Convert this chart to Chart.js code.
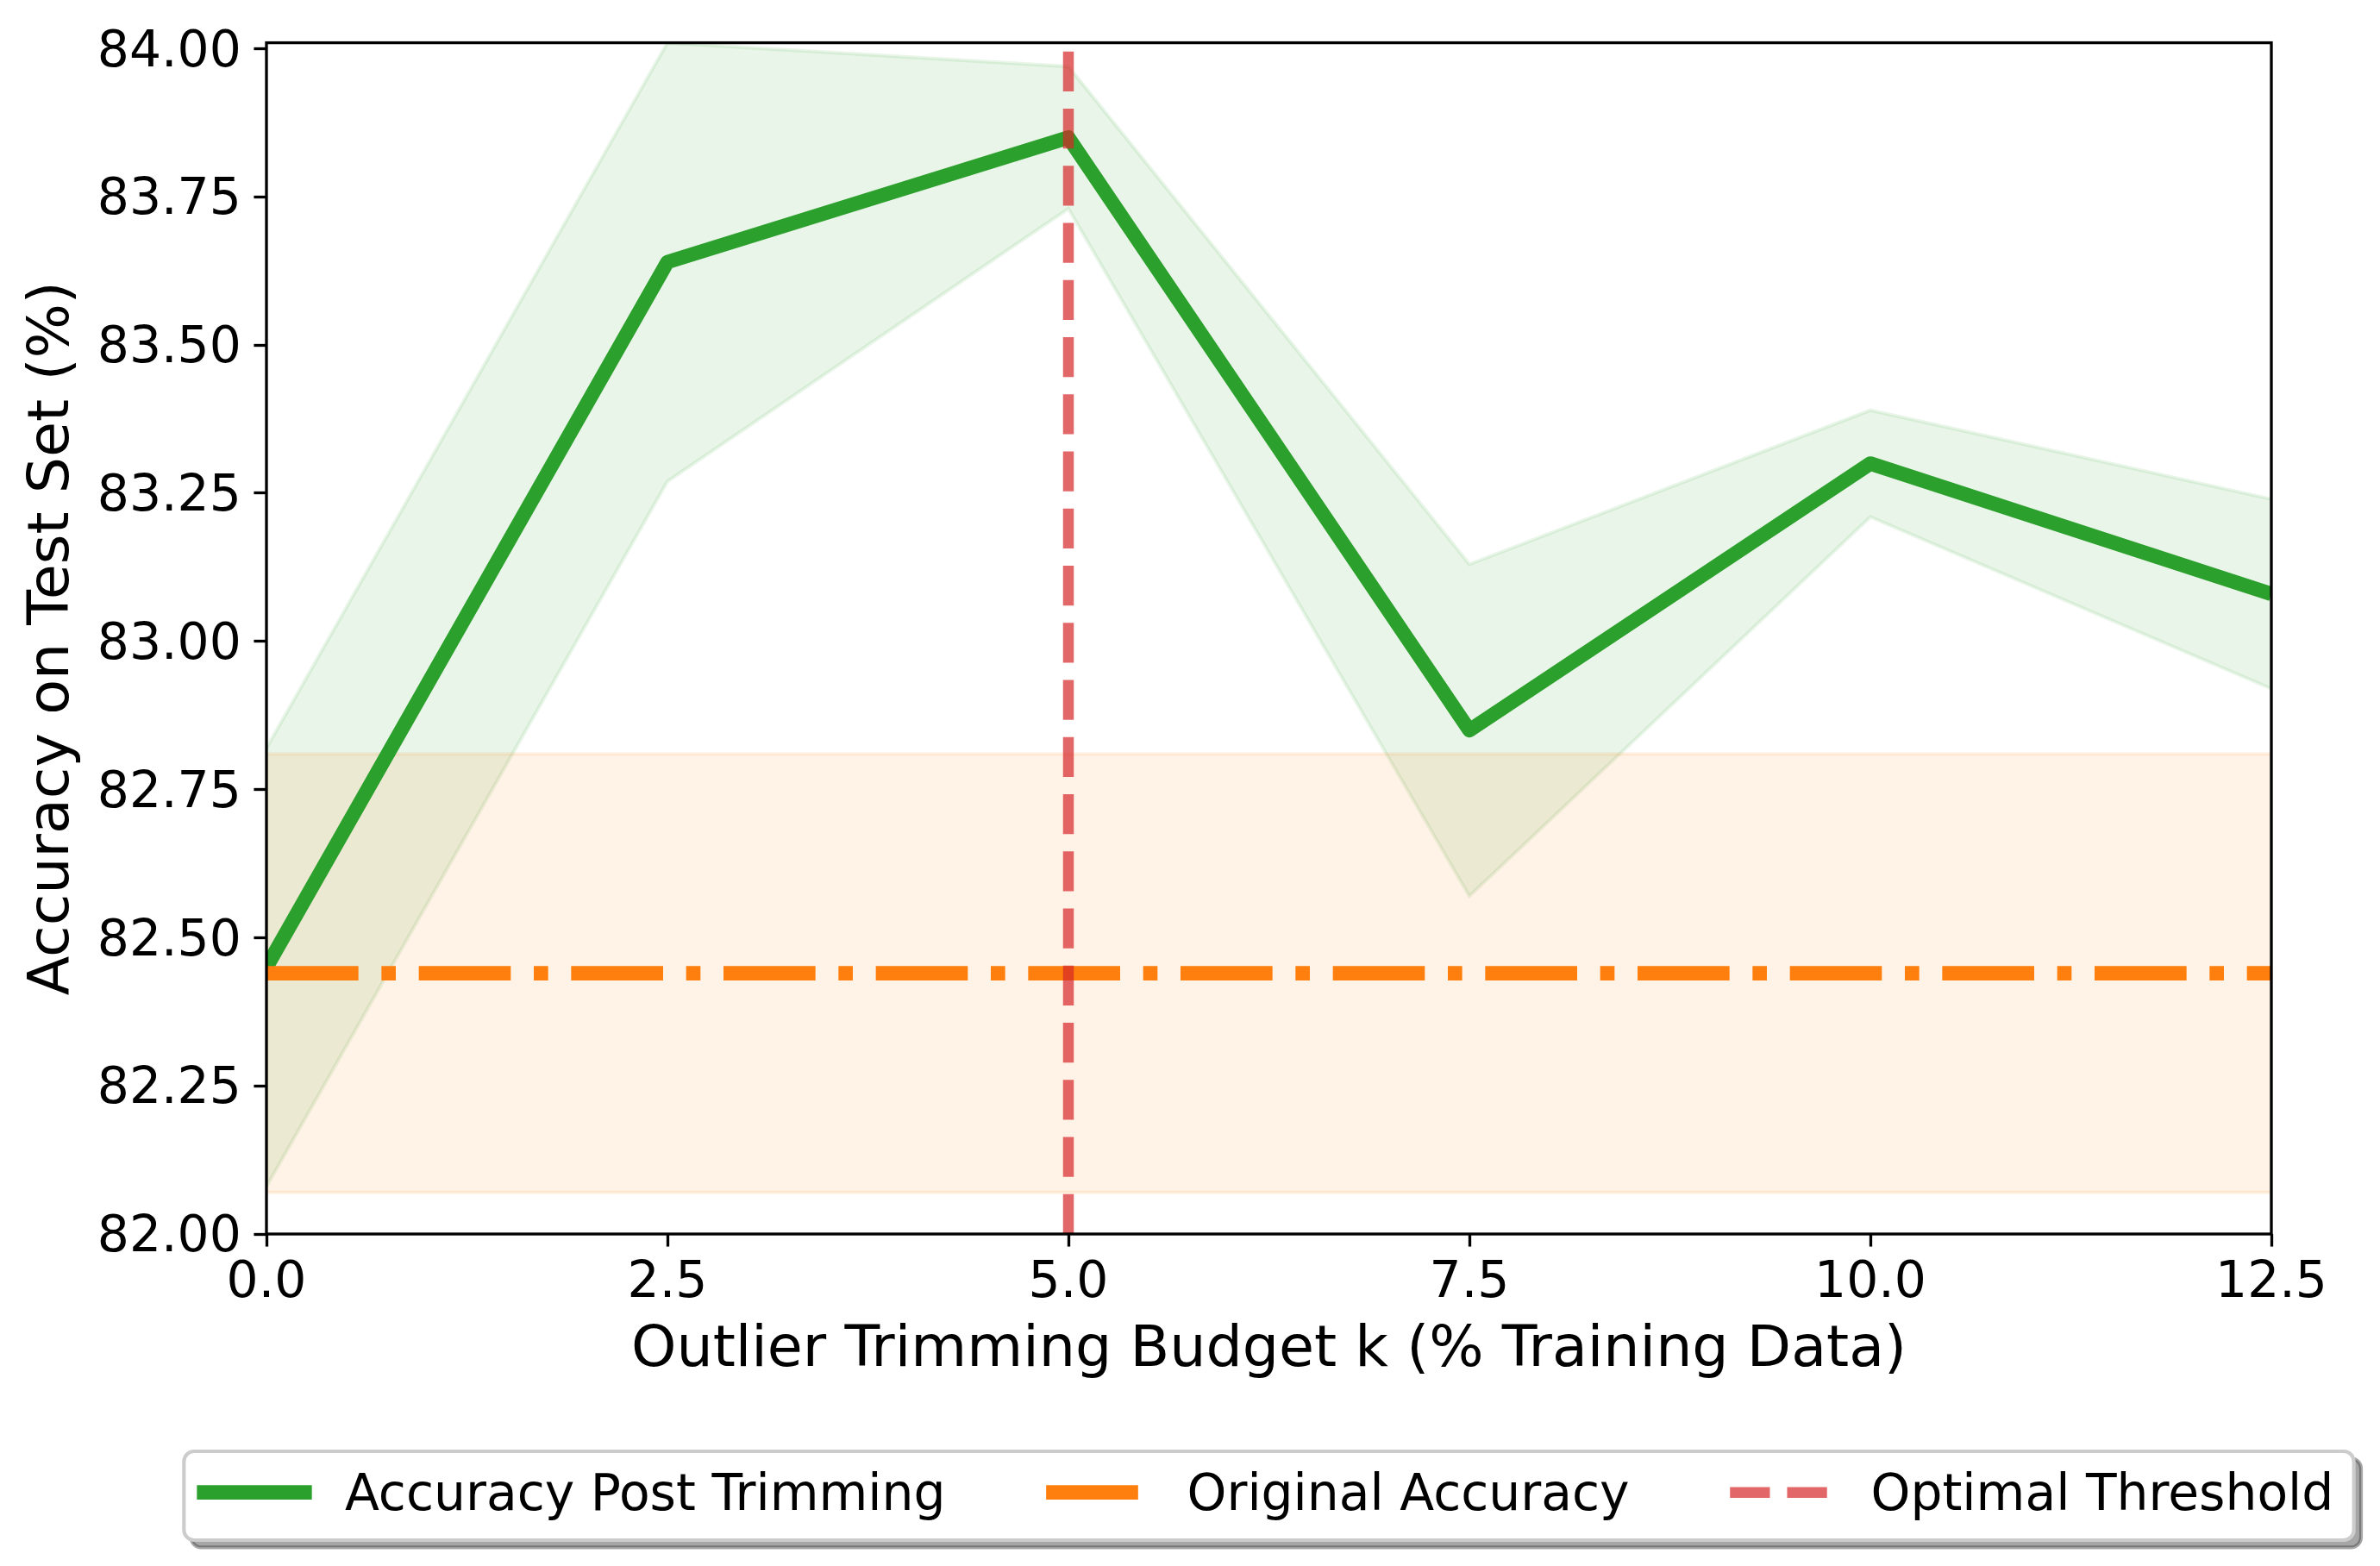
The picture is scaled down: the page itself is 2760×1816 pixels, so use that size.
<!DOCTYPE html>
<html>
<head>
<meta charset="utf-8">
<script src="https://cdn.jsdelivr.net/npm/chart.js@4.4.0/dist/chart.umd.min.js"></script>
<style>
  html, body { margin: 0; padding: 0; background: #fff; }
  #wrap { width: 2760px; height: 1816px; }
</style>
</head>
<body>
<div id="wrap"><canvas id="chart" width="2760" height="1816"></canvas></div>
<script>
//-- values ---->
var budget   = [0, 2.5, 5, 7.5, 10, 12.5];                 // outlier trimming budget k (%)
var accMean  = [82.45, 83.64, 83.85, 82.85, 83.30, 83.08];  // accuracy post trimming
var accUpper = [82.82, 84.01, 83.97, 83.13, 83.39, 83.24];  // upper edge of green band
var accLower = [82.08, 83.27, 83.73, 82.57, 83.21, 82.92];  // lower edge of green band

var origX     = [0, 12.5];          // original accuracy spans the whole axis
var origMean  = [82.44, 82.44];
var origUpper = [82.81, 82.81];
var origLower = [82.07, 82.07];

var optimalX = [5, 5];              // optimal threshold (vertical line)
var optimalY = [82, 84.01];

var xTicks = [0, 2.5, 5, 7.5, 10, 12.5];
var yTicks = [82, 82.25, 82.5, 82.75, 83, 83.25, 83.5, 83.75, 84];
var yMin = 82, yMax = 84.01;

var legendLabels = ['Accuracy Post Trimming', 'Original Accuracy', 'Optimal Threshold'];

//-- matplotlib look (300 dpi) ---->
var PT = 300 / 72;
var GREEN = '#2ca02c', ORANGE = '#ff7f0e', RED = 'rgba(214,39,40,0.7)';
var GREEN_BAND = 'rgba(44,160,44,0.1)', ORANGE_BAND = 'rgba(255,127,14,0.1)';
var DASHED = [3.7 * 3 * PT, 1.6 * 3 * PT];
var DASHDOT = [6.4 * 4 * PT, 1.6 * 4 * PT, 1.0 * 4 * PT, 1.6 * 4 * PT];
var FONT = "'DejaVu Sans'";

Chart.defaults.font.family = FONT;
Chart.defaults.color = '#000';

function pts(xs, ys) {
    return xs.map(function (x, i) { return { x: x, y: ys[i] }; });
}

//-- frame (all four spines) ---->
var frame = {
    id: 'frame',
    afterDatasetsDraw: function (chart) {
        var a = chart.chartArea, ctx = chart.ctx;
        ctx.save();
        ctx.strokeStyle = '#000';
        ctx.lineWidth = 0.8 * PT;
        ctx.strokeRect(a.left, a.top, a.right - a.left, a.bottom - a.top);
        ctx.restore();
    }
};

//-- legend below the axes, with shadow ---->
var mplLegend = {
    id: 'mplLegend',
    afterDraw: function (chart) {
        var ctx = chart.ctx, a = chart.chartArea;
        var fs = 14 * PT;
        ctx.save();
        ctx.font = fs + 'px ' + FONT;
        var handleLen = 2 * fs, textPad = 0.8 * fs, colSp = 2 * fs, bpad = 0.4 * fs;
        var widths = legendLabels.map(function (t) { return ctx.measureText(t).width; });
        var inner = 0;
        widths.forEach(function (w, i) { inner += handleLen + textPad + w + (i ? colSp : 0); });
        var boxW = inner + 2 * bpad, boxH = 103;
        var left = (a.left + a.right) / 2 - boxW / 2, top = 1683;
        var r = 0.2 * fs, off = 2 * PT;

        // shadow
        ctx.beginPath();
        ctx.roundRect(left + off, top + off, boxW, boxH, r);
        ctx.fillStyle = 'rgba(77,77,77,0.5)';
        ctx.fill();
        ctx.lineWidth = 1 * PT;
        ctx.strokeStyle = 'rgba(77,77,77,0.5)';
        ctx.stroke();
        // frame
        ctx.beginPath();
        ctx.roundRect(left, top, boxW, boxH, r);
        ctx.fillStyle = '#fff';
        ctx.fill();
        ctx.strokeStyle = '#cccccc';
        ctx.stroke();

        var styles = [
            { color: GREEN, width: 4 * PT, dash: [], cap: 'square' },
            { color: ORANGE, width: 4 * PT, dash: DASHDOT, cap: 'butt' },
            { color: RED, width: 3 * PT, dash: DASHED, cap: 'butt' }
        ];
        var x = left + bpad, yc = 1730.7;
        for (var i = 0; i < legendLabels.length; i++) {
            var s = styles[i];
            ctx.beginPath();
            ctx.setLineDash(s.dash);
            ctx.lineCap = s.cap;
            ctx.lineWidth = s.width;
            ctx.strokeStyle = s.color;
            ctx.moveTo(x, yc);
            ctx.lineTo(x + handleLen, yc);
            ctx.stroke();
            ctx.setLineDash([]);
            ctx.fillStyle = '#000';
            ctx.textBaseline = 'alphabetic';
            ctx.textAlign = 'left';
            ctx.fillText(legendLabels[i], x + handleLen + textPad, 1751);
            x += handleLen + textPad + widths[i] + colSp;
        }
        ctx.restore();
    }
};

var ctx = document.getElementById('chart');
var myChart = new Chart(ctx, {
    type: 'line',
    data: {
        datasets: [
            {   // green mean line
                label: legendLabels[0],
                data: pts(budget, accMean),
                borderColor: GREEN,
                borderWidth: 4 * PT,
                borderJoinStyle: 'round',
                pointRadius: 0,
                fill: false,
                clip: 0,
                order: 2
            },
            {   // original accuracy, dash-dot
                label: legendLabels[1],
                data: pts(origX, origMean),
                borderColor: ORANGE,
                borderWidth: 4 * PT,
                borderDash: DASHDOT,
                borderCapStyle: 'butt',
                pointRadius: 0,
                fill: false,
                clip: 0,
                order: 1
            },
            {   // optimal threshold, dashed vertical line
                label: legendLabels[2],
                data: pts(optimalX, optimalY),
                borderColor: RED,
                borderWidth: 3 * PT,
                borderDash: DASHED,
                borderCapStyle: 'butt',
                pointRadius: 0,
                fill: false,
                clip: 0,
                order: 0
            },
            {   // green band lower edge
                data: pts(budget, accLower),
                borderColor: GREEN_BAND,
                borderWidth: 1 * PT,
                pointRadius: 0,
                fill: false,
                clip: 0,
                order: 4
            },
            {   // green band upper edge, filled down to dataset 3
                data: pts(budget, accUpper),
                borderColor: GREEN_BAND,
                backgroundColor: GREEN_BAND,
                borderWidth: 1 * PT,
                pointRadius: 0,
                fill: 3,
                clip: 0,
                order: 4
            },
            {   // orange band lower edge
                data: pts(origX, origLower),
                borderColor: ORANGE_BAND,
                borderWidth: 1 * PT,
                pointRadius: 0,
                fill: false,
                clip: 0,
                order: 3
            },
            {   // orange band upper edge, filled down to dataset 5
                data: pts(origX, origUpper),
                borderColor: ORANGE_BAND,
                backgroundColor: ORANGE_BAND,
                borderWidth: 1 * PT,
                pointRadius: 0,
                fill: 5,
                clip: 0,
                order: 3
            }
        ]
    },
    options: {
        responsive: false,
        devicePixelRatio: 1,
        animation: false,
        layout: { padding: { left: 0, top: 45, right: 126, bottom: 209 } },
        plugins: {
            legend: { display: false },
            tooltip: { enabled: false }
        },
        scales: {
            x: {
                type: 'linear',
                min: 0,
                max: 12.5,
                afterBuildTicks: function (scale) {
                    scale.ticks = xTicks.map(function (v) { return { value: v }; });
                },
                afterFit: function (scale) { scale.height = 176; },
                ticks: {
                    autoSkip: false,
                    maxRotation: 0,
                    padding: 8,
                    font: { size: 14 * PT },
                    callback: function (v) { return Number(v).toFixed(1); }
                },
                grid: {
                    drawOnChartArea: false,
                    drawTicks: true,
                    tickLength: 3.5 * PT,
                    tickWidth: 0.8 * PT,
                    tickColor: '#000'
                },
                border: { display: false },
                title: {
                    display: true,
                    text: 'Outlier Trimming Budget k (% Training Data)',
                    font: { size: 16 * PT },
                    padding: 0
                }
            },
            y: {
                type: 'linear',
                min: yMin,
                max: yMax,
                afterBuildTicks: function (scale) {
                    scale.ticks = yTicks.map(function (v) { return { value: v }; });
                },
                afterFit: function (scale) { scale.width = 309; },
                ticks: {
                    padding: 3.5 * PT,
                    labelOffset: 5,
                    font: { size: 14 * PT },
                    callback: function (v) { return Number(v).toFixed(2); }
                },
                grid: {
                    drawOnChartArea: false,
                    drawTicks: true,
                    tickLength: 3.5 * PT,
                    tickWidth: 0.8 * PT,
                    tickColor: '#000'
                },
                border: { display: false },
                title: {
                    display: true,
                    text: 'Accuracy on Test Set (%)',
                    font: { size: 16 * PT },
                    padding: { top: 22, bottom: 0 }
                }
            }
        }
    },
    plugins: [frame, mplLegend]
});
</script>
</body>
</html>
